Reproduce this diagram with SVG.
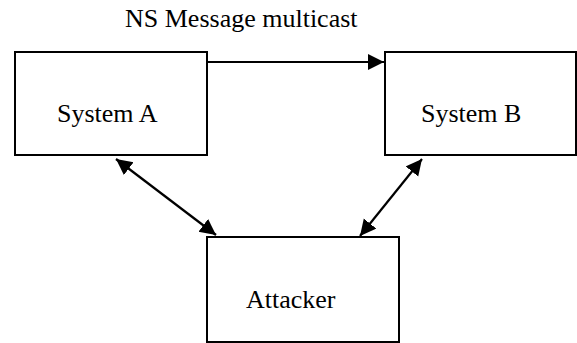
<svg xmlns="http://www.w3.org/2000/svg" width="577" height="343" viewBox="0 0 577 343">
<style>
.box{fill:#fff;stroke:#000;stroke-width:2}
.lbl{font-family:"Liberation Serif","Times New Roman",serif;font-size:26px;fill:#000}
.conn{stroke:#000;stroke-width:2.2;fill:none}
</style>
<defs>
<marker id="ah" markerUnits="userSpaceOnUse" markerWidth="17" markerHeight="17" refX="16" refY="8" orient="auto-start-reverse">
<path d="M0,0 L16,8 L0,16 z" fill="#000"/>
</marker>
</defs>
<rect width="577" height="343" fill="#fff"/>
<text class="lbl" x="125" y="27">NS Message multicast</text>
<g id="systemA">
<rect class="box" x="15" y="52" width="192" height="103"/>
<text class="lbl" x="57" y="122">System A</text>
</g>
<g id="systemB">
<rect class="box" x="385" y="52" width="191" height="103"/>
<text class="lbl" x="421" y="122">System B</text>
</g>
<g id="attacker">
<rect class="box" x="207" y="237" width="192" height="105"/>
<text class="lbl" x="246" y="308">Attacker</text>
</g>
<g id="connectors">
<line class="conn" x1="207" y1="62" x2="384" y2="62" marker-end="url(#ah)"/>
<line class="conn" x1="116" y1="159" x2="216" y2="235" marker-start="url(#ah)" marker-end="url(#ah)"/>
<line class="conn" x1="422" y1="159" x2="360" y2="236" marker-start="url(#ah)" marker-end="url(#ah)"/>
</g>
</svg>
